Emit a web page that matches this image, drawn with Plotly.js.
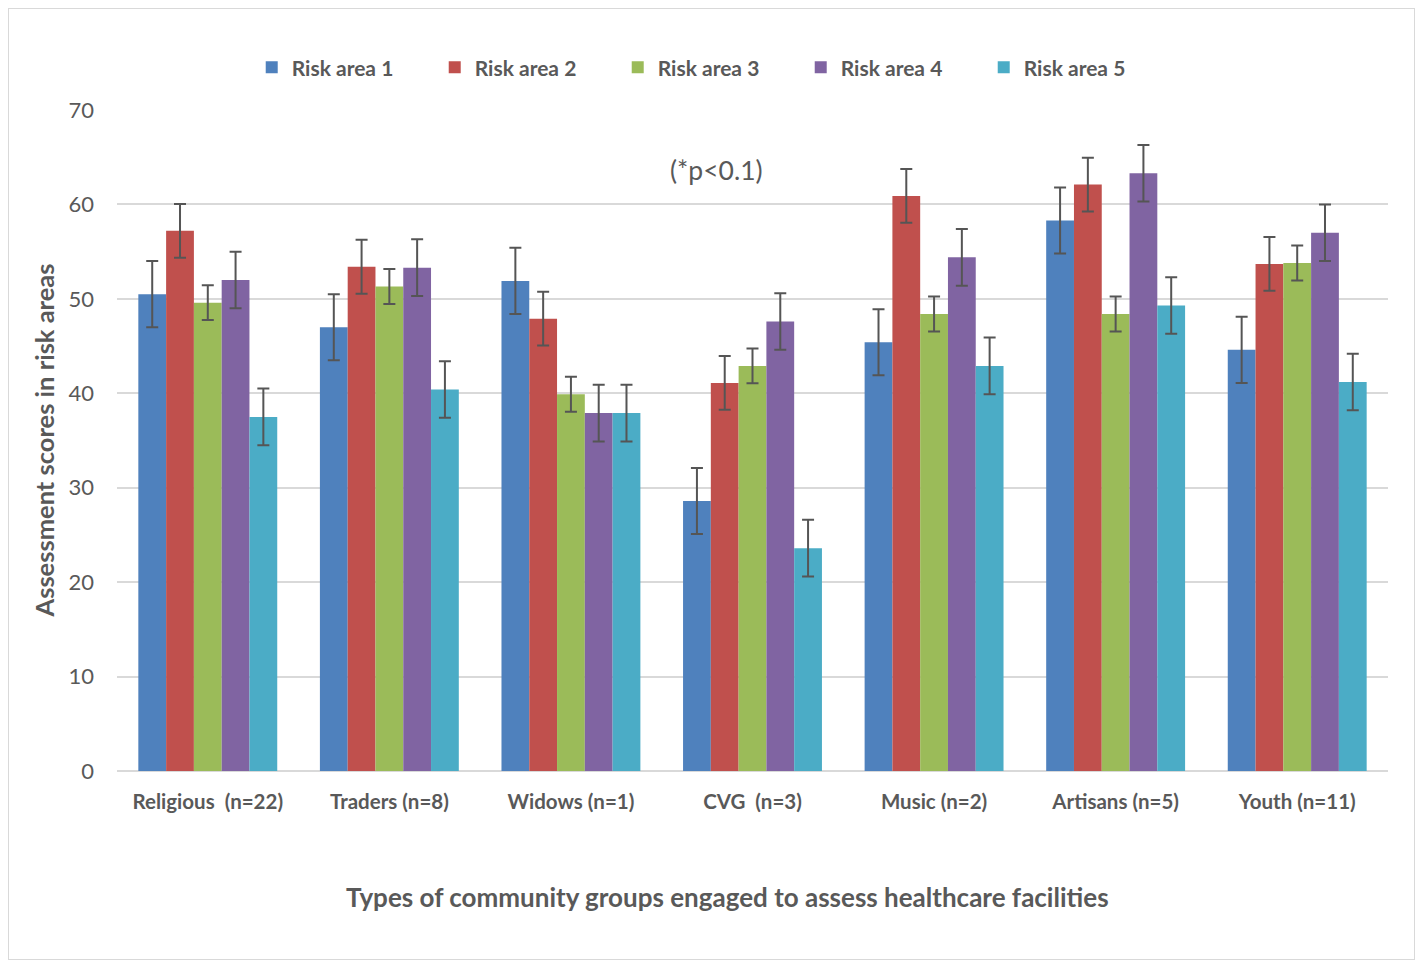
<!DOCTYPE html>
<html>
<head>
<meta charset="utf-8">
<script src="https://cdn.plot.ly/plotly-3.0.1.min.js"></script>
<style>
html,body{margin:0;padding:0;background:#fff;}
#wrap{position:relative;width:1421px;height:964px;}
#chart{width:1421px;height:964px;}
#frame{position:absolute;left:8px;top:8px;width:1405px;height:950px;border:1px solid #d9d9d9;pointer-events:none;}
</style>
</head>
<body>
<div id="wrap"><div id="chart"></div><div id="frame"></div></div>
<script>
const categories = ["Religious\u00a0\u00a0(n=22)", "Traders (n=8)", "Widows (n=1)", "CVG\u00a0\u00a0(n=3)", "Music (n=2)", "Artisans (n=5)", "Youth (n=11)"];
const seriesNames = ["Risk area 1", "Risk area 2", "Risk area 3", "Risk area 4", "Risk area 5"];
const risk1 = [50.5, 47.0, 51.9, 28.6, 45.4, 58.3, 44.6];
const risk2 = [57.2, 53.4, 47.9, 41.1, 60.9, 62.1, 53.7];
const risk3 = [49.6, 51.3, 39.9, 42.9, 48.4, 48.4, 53.8];
const risk4 = [52.0, 53.3, 37.9, 47.6, 54.4, 63.3, 57.0];
const risk5 = [37.5, 40.4, 37.9, 23.6, 42.9, 49.3, 41.2];
const err1 = [3.5, 3.5, 3.5, 3.5, 3.5, 3.5, 3.5];
const err2 = [2.85, 2.85, 2.85, 2.85, 2.85, 2.85, 2.85];
const err3 = [1.85, 1.85, 1.85, 1.85, 1.85, 1.85, 1.85];
const err4 = [3.0, 3.0, 3.0, 3.0, 3.0, 3.0, 3.0];
const err5 = [3.0, 3.0, 3.0, 3.0, 3.0, 3.0, 3.0];
const yTicks = [0, 10, 20, 30, 40, 50, 60, 70];

const colors = ["#4F81BD", "#C0504D", "#9BBB59", "#8064A2", "#4BACC6"];
const values = [risk1, risk2, risk3, risk4, risk5];
const errs = [err1, err2, err3, err4, err5];
const FONT = "Lato, 'Open Sans', sans-serif";
const GRAY = "#595959";

const data = values.map((v, i) => ({
  type: "bar",
  name: seriesNames[i],
  x: categories,
  y: v,
  marker: {color: colors[i]},
  error_y: {type: "data", array: errs[i], visible: true, color: "#555555", thickness: 2, width: 6},
  hoverinfo: "x+y+name"
}));

const layout = {
  width: 1421, height: 964,
  margin: {l: 117, r: 33, t: 110, b: 193},
  paper_bgcolor: "#ffffff", plot_bgcolor: "#ffffff",
  barmode: "group", bargap: 0.235, bargroupgap: 0,
  font: {family: FONT, color: GRAY},
  showlegend: true,
  legend: {
    orientation: "h", x: 0.106, xanchor: "left", y: 1.064, yanchor: "middle",
    font: {family: FONT, size: 21, color: GRAY, weight: 700},
    entrywidth: 138, entrywidthmode: "pixels", itemwidth: 30,
    traceorder: "normal", bgcolor: "rgba(0,0,0,0)"
  },
  xaxis: {
    type: "category", showgrid: false, zeroline: false,
    showline: false, ticks: "",
    tickfont: {family: FONT, size: 20.5, color: GRAY, weight: 700},
    ticklabelstandoff: 16, fixedrange: true
  },
  yaxis: {
    range: [0, 70], tickvals: yTicks, ticktext: yTicks.map(String),
    showgrid: true, gridcolor: "#d9d9d9", gridwidth: 2,
    zeroline: true, zerolinecolor: "#d9d9d9", zerolinewidth: 2,
    showline: false, ticks: "",
    tickfont: {family: FONT, size: 22, color: GRAY},
    ticklabelstandoff: 22, fixedrange: true
  },
  annotations: [
    {text: "(*p<0.1)", xref: "paper", yref: "paper", x: (716 - 117) / 1271, y: (771 - 170) / 661,
     xanchor: "center", yanchor: "middle", showarrow: false,
     font: {family: FONT, size: 26.5, color: GRAY}},
    {text: "Types of community groups engaged to assess healthcare facilities", xref: "paper", yref: "paper",
     x: (727 - 117) / 1271, y: (771 - 897) / 661, xanchor: "center", yanchor: "middle", showarrow: false,
     font: {family: FONT, size: 26, color: GRAY, weight: 700}},
    {text: "Assessment scores in risk areas", xref: "paper", yref: "paper",
     x: (43 - 117) / 1271, y: 0.5, xanchor: "center", yanchor: "middle", showarrow: false, textangle: -90,
     font: {family: FONT, size: 25.5, color: GRAY, weight: 700}}
  ]
};

Plotly.newPlot("chart", data, layout, {displayModeBar: false, staticPlot: false});
</script>
</body>
</html>
